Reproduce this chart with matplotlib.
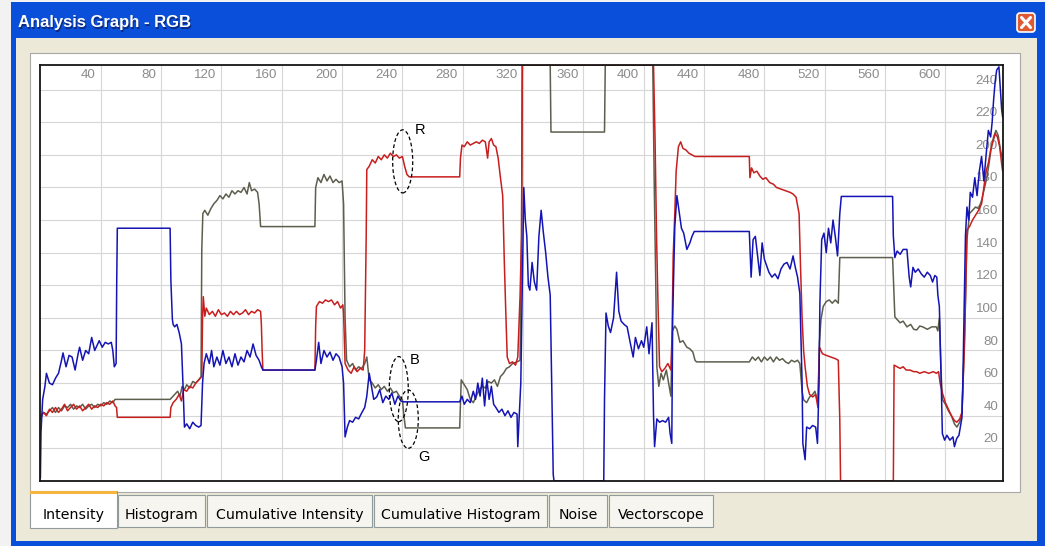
import numpy as np
import matplotlib
matplotlib.use('Agg')
import matplotlib.pyplot as plt
from matplotlib.patches import Rectangle, Ellipse, FancyBboxPatch

# --- data: (pixel column, intensity 0..255) ---
red = [(0, 40), (2, 42), (4, 40), (6, 44), (8, 42), (10, 45), (12, 42), (14, 44), (16, 47), (18, 43),
       (20, 45), (22, 47), (24, 44), (26, 46), (28, 43), (30, 45), (32, 47), (34, 44), (36, 46), (38, 45),
       (40, 47), (42, 46), (44, 48), (46, 47), (48, 49), (49.5, 46), (50.5, 45), (51, 39), (86, 39),
       (86.5, 45), (88, 48), (90, 50), (92, 53), (93.5, 49), (95, 56), (97, 55), (99, 58), (101, 57),
       (103, 60), (105, 62), (107, 64), (107.5, 100), (108, 113), (109, 101), (110, 106), (112, 102),
       (114, 104), (116, 101), (118, 105), (120, 102), (122, 103), (124, 101), (126, 104), (128, 102),
       (130, 104), (132, 102), (134, 103), (136, 105), (138, 102), (140, 104), (142, 103), (144, 105),
       (146, 104), (146.5, 96), (147, 80), (147.5, 68), (182, 68), (182.5, 95), (183, 107), (185, 110),
       (187, 109), (189, 111), (191, 110), (193, 111), (195, 108), (197, 110), (199, 106), (200.5, 108),
       (201, 103), (202, 72), (204, 68), (206, 66), (208, 70), (210, 67), (212, 69), (214, 68), (215, 80),
       (216, 150), (216.4, 191), (218, 193), (220, 197), (222, 195), (224, 199), (226, 197), (228, 200),
       (230, 198), (232, 201), (234, 199), (236, 200), (238, 198), (240, 199), (241.5, 193), (243, 188),
       (244.5, 186.5), (278, 186.5), (278.5, 198), (279.5, 206), (281, 205), (283, 208), (285, 206),
       (287, 207), (289, 208), (291, 207), (293, 209), (295, 208), (296.5, 198), (297.5, 208), (299, 210),
       (300.5, 206), (302, 205), (303.5, 198), (305, 186), (306.5, 175), (307.5, 137), (308.5, 105),
       (309.5, 76), (311, 72), (313, 73), (315, 71), (316.5, 76), (318, 113), (319, 150), (319.5, 255),
       (406.5, 255), (407.5, 210), (408.5, 150), (409.4, 111), (410.5, 70), (412, 67), (414, 69), (416, 72),
       (418, 68), (418.8, 90), (419.5, 137), (420.6, 164), (421.5, 190), (423, 205), (424.5, 208), (426, 204),
       (428, 203), (430, 201), (432, 200), (434, 199), (470, 199), (470.4, 186), (471.5, 192), (473, 189),
       (475, 190), (477, 187), (479, 185), (481, 186), (483.5, 183), (486, 182), (488, 180), (491, 179),
       (494, 178), (497, 177), (499, 176), (501, 174), (503, 164), (504, 130), (505, 100), (506, 80),
       (507, 70), (508.5, 58), (510, 53), (512, 51.5), (514, 53), (515.5, 45), (516.5, 82), (518.5, 78),
       (521, 77), (524, 76), (527, 75), (529, 74), (530, 37), (530.5, 0), (565.5, 0), (566, 71), (568, 70),
       (570, 69), (572, 70), (574, 68), (576.5, 68), (579, 67), (581, 67), (583, 66), (586, 67), (589, 66),
       (592, 67), (594, 66), (595.5, 67), (596.5, 60), (598, 54), (600, 48), (602, 44), (604, 40), (606, 37),
       (607.6, 36), (609.5, 38), (611, 42), (611.6, 58), (612.5, 80), (613.3, 110), (614.3, 154), (616, 156),
       (618, 160), (620, 163), (622, 166), (624, 170), (625.5, 180), (627, 190), (628.5, 195), (630, 203),
       (631.5, 208), (633, 213), (634.5, 211), (636, 205), (637.5, 193), (638, 190)]

green = [(0, 38), (2, 42), (4, 41), (6, 43), (8, 45), (10, 42), (12, 45), (14, 43), (16, 46), (18, 45),
         (20, 47), (22, 44), (24, 46), (26, 45), (28, 47), (30, 44), (32, 46), (34, 47), (36, 45), (38, 47),
         (40, 46), (42, 48), (44, 47), (46, 49), (48, 48), (49.5, 50), (50.6, 50), (86, 50), (87, 51),
         (89, 53), (91, 55), (92.5, 52), (94, 58), (95.5, 56), (97, 59), (99, 57), (101, 61), (103, 60),
         (105, 62), (106.5, 64), (107, 142), (107.7, 164), (109, 166), (111, 163), (113, 167), (115, 170),
         (117, 172), (119, 175), (121, 173), (123, 176), (125, 174), (127, 178), (129, 176), (131, 178),
         (133, 177), (135, 180), (137, 176), (138.5, 183), (140, 178), (142, 179), (144, 177), (145, 170),
         (146, 156), (182, 156), (182.5, 180), (184, 186), (186, 183), (188, 188), (190, 184), (192, 187),
         (194, 183), (196, 185), (198, 183), (200, 184), (201, 170), (202, 100), (203, 74), (205, 70),
         (207, 72), (209, 68), (211, 70), (213, 69), (215, 72), (216.4, 76), (218, 62), (220, 60), (222, 57),
         (224, 59), (226, 56), (228, 58), (230, 55), (232, 57), (234, 54), (236, 55), (238, 52), (240, 50),
         (241, 40), (242, 32.5), (278, 32.5), (279, 62), (281, 59), (283, 56), (285, 50), (287, 48),
         (289, 52), (291, 56), (293, 58), (295, 57), (297, 61), (299, 60), (301, 62), (303, 58), (305, 64),
         (307, 66), (309, 69), (311, 70), (313, 72), (316, 73), (318, 74), (319, 150), (319.5, 255),
         (338, 255), (338.5, 214), (374, 214), (374.5, 255), (406, 255), (407, 180), (408, 120),
         (408.7, 70), (410, 58), (411.5, 66), (413, 62), (415, 68), (416.5, 60), (418, 52), (419, 92),
         (420.6, 95), (422, 93), (424, 85), (426, 86), (428.6, 82), (430.6, 81), (432.6, 79), (434, 74),
         (435, 73), (470, 73), (472, 76), (474, 74), (476, 76), (478, 73), (480, 76), (482, 74), (484, 76),
         (486, 73), (488, 76), (490, 74), (492, 75), (494, 73), (496, 72), (498, 74), (500, 73), (502, 74),
         (503.5, 72), (505, 55), (506, 49.7), (508, 48), (510, 51.5), (512, 53), (513.5, 55), (515.5, 48),
         (516.5, 85), (517.5, 99), (519, 107), (521, 110), (523, 111), (525, 109), (527, 111), (529, 109),
         (530, 137), (565, 137), (566.5, 100.6), (568, 99), (570, 97), (572, 98), (574.5, 94.5), (577, 96),
         (579, 93), (581, 92.6), (583, 95), (585, 94.5), (588, 93), (591, 94.5), (594, 94.5), (595, 92),
         (596, 100), (597, 70), (598, 50), (600, 47), (602, 43), (604, 40), (606, 35), (607.6, 33),
         (609.5, 36), (611, 42), (611.6, 58), (612.5, 80), (613.3, 110), (614.3, 148), (616, 164), (618, 166),
         (620, 168), (622, 167), (624, 172), (626, 180), (627.5, 186), (629, 195), (630.5, 205), (632, 211),
         (633.5, 215), (635, 212), (636.5, 203), (638, 197)]

blue = [(0, 2), (0.4, 30), (1.5, 50), (3, 58), (4, 66), (6, 60), (8, 59), (10, 63), (12, 66), (14, 74),
        (15, 78.5), (17, 70), (19, 77), (21, 76), (23, 68), (25, 78), (26, 82), (28, 74), (30, 80), (32, 78),
        (34, 88), (36, 80), (37, 82), (39, 86), (41, 82), (43, 85), (45, 84), (47, 85), (48, 80), (49, 70),
        (50.2, 72), (50.6, 122), (51, 155), (86, 155), (86.5, 123), (87.5, 99), (88, 96), (89, 94.5),
        (90.5, 96), (92, 91), (93.5, 84), (94.5, 60), (95.5, 33), (97, 35), (99, 32), (101, 36), (103, 34),
        (105, 33), (106.5, 34), (107.5, 60), (108.5, 72), (110, 78), (112, 72), (113.5, 80), (115, 70),
        (117, 76), (119, 71), (121, 80), (123, 72), (125, 76), (127, 70), (129, 78), (131, 71), (133, 76),
        (135, 73), (137, 80), (139, 76), (141, 84), (143, 77), (145, 74), (146.5, 70), (147.5, 68), (182, 68),
        (183, 74), (184.5, 85), (186, 72), (188, 80), (190, 76), (192, 79), (194, 74), (196, 78), (198, 76),
        (200, 70), (201, 60), (202, 27), (203.5, 33), (205, 37), (207, 36), (209, 39), (211, 38),
        (213, 41.7), (215, 45), (216.4, 52), (218, 66), (219.5, 58), (221, 50), (223, 51.5), (225, 56),
        (227, 48), (229, 52), (231, 50), (233, 54), (235, 47), (237, 52), (239, 49), (240.5, 48.5),
        (278, 48.5), (279.5, 52), (281, 47), (283, 50), (285, 48), (287, 55), (288.5, 50), (290, 60),
        (291.5, 52), (293, 63), (294.5, 46), (296, 62), (297.5, 50), (299, 58), (300.5, 47), (302, 45),
        (304, 42), (306, 44), (308, 40), (310, 43), (312, 39), (314, 42), (316, 41), (316.5, 21),
        (317.5, 40), (318.5, 60), (319.5, 120), (320.5, 180), (321.5, 160), (322.5, 150), (323.5, 120),
        (324.5, 117), (326, 134), (327.5, 122), (329, 117), (330.5, 150), (332, 166), (333.5, 152),
        (335, 140), (336.5, 125), (338, 114), (339, 60), (340, 4), (340.5, 0), (373.5, 0), (374, 50),
        (375, 103), (376.5, 95), (378, 91), (380, 100), (382, 128), (383.5, 104), (385, 98), (387, 96),
        (389, 94.5), (391, 85), (393, 76), (394.5, 88), (396.5, 81), (398.5, 86), (400, 82), (402, 94.5),
        (403.5, 78), (405.5, 97), (406.5, 40), (407.2, 21), (408.7, 38), (410.5, 36), (412.5, 37),
        (414.5, 36), (416.5, 39), (417.5, 29), (418.6, 23), (419.2, 100), (420.6, 156), (422, 175),
        (423.5, 165), (425, 155), (426.5, 152), (428.6, 142), (430.6, 146), (432, 150), (433.5, 153),
        (435, 153), (470, 153), (471.2, 125), (472.5, 148), (474, 150), (475.5, 138), (477, 126),
        (478.5, 146), (480, 136), (481.5, 132), (483, 128), (485, 125), (487, 127), (489, 124), (491, 130),
        (493, 133), (495, 134), (497, 130), (499, 138), (500.5, 131), (502, 125), (503.5, 115), (505, 60),
        (505.5, 23), (507, 13), (508, 33), (510, 32), (512, 34), (514, 33), (515.2, 23), (516.2, 60),
        (516.8, 109), (518, 148), (519.5, 152), (521, 140), (522.5, 155), (524, 146), (525.5, 160),
        (527, 150), (528.5, 138), (530, 164), (531, 174.5), (565, 174.5), (565.5, 150), (566.5, 137),
        (568, 141), (570, 139), (572, 142), (574.5, 142), (576, 125), (577, 119), (578.5, 131), (580, 128),
        (582, 130), (584, 127), (586, 125), (588, 128), (590, 126), (591.5, 122), (593, 126), (594.3, 125),
        (595, 114), (596, 107), (597, 70), (598, 29), (599.5, 25), (601, 28), (603, 25), (605, 27),
        (606, 21), (607.5, 26), (609, 28), (611, 39), (611.6, 62), (612.5, 110), (613.3, 150), (614.3, 168),
        (615.5, 160), (616.5, 177), (618, 174), (619.5, 186), (621, 175), (622.5, 190), (624, 199),
        (625.5, 184), (627, 200), (628.5, 215), (630, 211), (631, 220), (632, 234), (633, 245), (634, 252),
        (635.5, 254), (636.5, 240), (637.3, 228), (638, 223)]

x_ticks = [40, 80, 120, 160, 200, 240, 280, 320, 360, 400, 440, 480, 520, 560, 600]
y_ticks = [20, 40, 60, 80, 100, 120, 140, 160, 180, 200, 220, 240]
tab_labels = ['Intensity', 'Histogram', 'Cumulative Intensity', 'Cumulative Histogram', 'Noise', 'Vectorscope']
tab_edges = [30, 117, 206, 373, 548, 608, 714]

W, H = 1045, 546
fig = plt.figure(figsize=(W / 100, H / 100), dpi=100)
fig.patch.set_facecolor('#F2F2F2')

# window chrome drawn in pixel coordinates
bg = fig.add_axes([0, 0, 1, 1])
bg.axis('off')


def box(x, y, w, h, **kw):
    bg.add_patch(Rectangle((x, y), w, h, **kw))


box(11, 2, 1034, 544, fc='#0A4FD9', ec='none')
t = np.linspace(0, 1, 36)[:, None]
c_top = np.array([0.32, 0.60, 0.98])
c_mid = np.array([0.05, 0.37, 0.93])
c_bot = np.array([0.02, 0.30, 0.84])
grad = np.where(t < 0.3, c_top + (c_mid - c_top) * t / 0.3, c_mid + (c_bot - c_mid) * (t - 0.3) / 0.7)
bg.imshow(grad[:, None, :], extent=(11, 1045, 38, 2), aspect='auto', interpolation='bilinear')
bg.text(19, 24, 'Analysis Graph - RGB', color='#0A2A80', fontsize=12, fontweight='bold',
        family='Liberation Sans', va='center')
bg.text(18, 23, 'Analysis Graph - RGB', color='white', fontsize=12, fontweight='bold',
        family='Liberation Sans', va='center')

bg.add_patch(FancyBboxPatch((1017, 13), 18, 19, boxstyle='round,pad=0,rounding_size=3',
                            fc='#DD5A33', ec='white', lw=1.2))
bg.plot([1021.5, 1030.5], [17.5, 27.5], color='white', lw=2.2, solid_capstyle='round')
bg.plot([1021.5, 1030.5], [27.5, 17.5], color='white', lw=2.2, solid_capstyle='round')

box(16, 38, 1021, 503, fc='#ECE9D8', ec='none')
box(29.5, 52.5, 990, 439, fc='white', ec='#A8A8A8', lw=0.8)

for i, lab in enumerate(tab_labels):
    x0, x1 = tab_edges[i], tab_edges[i + 1]
    if i == 0:
        box(x0, 491, x1 - x0, 37, fc='white', ec='#919B9C', lw=0.8)
        box(x0, 491, x1 - x0, 3, fc='#F5B53F', ec='none')
    else:
        box(x0 + 1, 495, x1 - x0 - 2, 32, fc='#F6F5F0', ec='#919B9C', lw=0.8)
    bg.text((x0 + x1) / 2, 515, lab, fontsize=10.2, family='DejaVu Sans',
            ha='center', va='center', color='black')

bg.set_xlim(0, W)
bg.set_ylim(H, 0)

# the graph itself
ax = fig.add_axes([40.4 / W, 1 - 480.9 / H, 962.3 / W, 415.7 / H])
ax.set_facecolor('white')
ax.set_xlim(0, 638)
ax.set_ylim(0, 255)
ax.set_xticks(x_ticks)
ax.set_yticks(y_ticks)
ax.tick_params(length=0, labelbottom=False, labelleft=False)
ax.set_axisbelow(True)
ax.grid(True, color='#D6D6D6', lw=0.8)
for s in ax.spines.values():
    s.set_color('#151515')
    s.set_linewidth(1.3)
    s.set_zorder(5)

tick_font = dict(fontsize=9.6, color='#8C8C8C', family=['Liberation Sans Narrow', 'Liberation Sans'], zorder=1)
for v in x_ticks:
    ax.annotate(str(v), xy=(v, 1), xycoords=('data', 'axes fraction'), xytext=(-3.5, -2.5),
                textcoords='offset points', ha='right', va='top', **tick_font)
for v in y_ticks:
    ax.annotate(str(v), xy=(1, v), xycoords=('axes fraction', 'data'), xytext=(-3.4, 4.3),
                textcoords='offset points', ha='right', va='baseline', **tick_font)

for pts, col in [(green, '#5E5E4E'), (red, '#C81E1E'), (blue, '#1414B4')]:
    xs, ys = zip(*pts)
    ax.plot(xs, ys, color=col, lw=1.1, zorder=3)

dash = dict(fill=False, ec='black', lw=0.9, ls=(0, (3, 2)), zorder=4)
ax.add_patch(Ellipse((240.2, 196), 13.3, 38.7, **dash))
ax.add_patch(Ellipse((237.6, 56.3), 12.6, 39.9, **dash))
ax.add_patch(Ellipse((243.9, 37.9), 13.3, 35.8, **dash))
for lx, ly, s in [(251.6, 215.3, 'R'), (248.3, 74.2, 'B'), (254, 14.4, 'G')]:
    ax.text(lx, ly, s, fontsize=10.5, family='Liberation Sans', ha='center', va='center', zorder=4)

fig.savefig('out.png', dpi=100)
